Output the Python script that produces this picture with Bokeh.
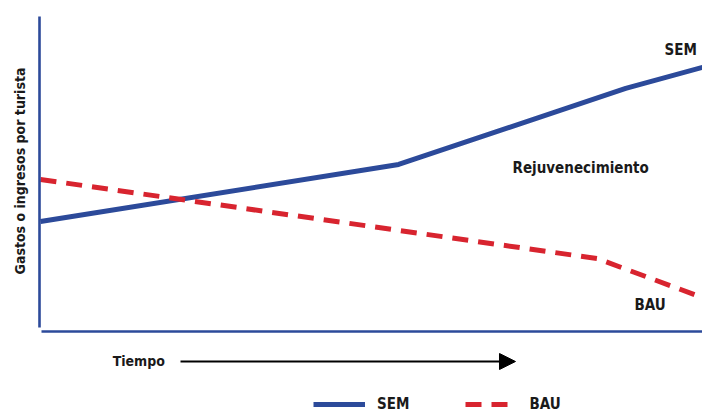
from bokeh.plotting import figure
from bokeh.models import Range1d, LinearAxis, FixedTicker, Legend, LegendItem, Arrow, NormalHead, ColumnDataSource
from bokeh.core.properties import value
from bokeh.embed import file_html
from bokeh.resources import INLINE
import math

# ---- data (conceptual index, 0..100 on both axes) ----
sem_x = [0, 54.1, 88.4, 100]
sem_y = [34.7, 52.9, 77.1, 83.8]
bau_x = [0, 84.1, 100]
bau_y = [48.1, 22.9, 10.5]

series_labels = ["SEM", "BAU"]
y_title = "Gastos o ingresos por turista"
x_title = "Tiempo"
annotation = "Rejuvenecimiento"

BLUE = "#2c4a9a"
RED = "#d8242f"
FONT_NAME = "DejaVu Sans Condensed"
FONT = value(FONT_NAME)

p = figure(width=702, height=413, output_backend="svg", toolbar_location=None,
           x_axis_location=None, y_axis_location=None, min_border=0,
           x_range=Range1d(-6.042, 100), y_range=Range1d(-26.43, 105.1))
p.outline_line_color = None
p.xgrid.visible = False
p.ygrid.visible = False
p.background_fill_color = "white"

# spines drawn as real axes at fixed locations
for loc, side, bnds in [(-0.08, "left", (1.0, 100)), (-0.32, "below", (0.15, 100))]:
    ax = LinearAxis(fixed_location=loc, bounds=bnds, ticker=FixedTicker(ticks=[]),
                    axis_line_color=BLUE, axis_line_width=2.6,
                    major_tick_line_color=None, minor_tick_line_color=None,
                    major_label_text_color=None)
    p.add_layout(ax, side)

r_sem = p.line(sem_x, sem_y, line_color=BLUE, line_width=5)
r_bau = p.line(bau_x, bau_y, line_color=RED, line_width=5, line_dash="16 10")

src = ColumnDataSource(dict(
    x=[96.7, 81.6, 92.1],
    y=[89.2, 51.6, 8.0],
    t=[series_labels[0], annotation, series_labels[1]],
))
p.text(x="x", y="y", text="t", source=src, text_font=FONT, text_font_style="bold",
       text_font_size="15px", text_align="center", text_baseline="middle", text_color="#1a1a1a")

# y title (rotated)
p.text(x=[-3.1], y=[50.8], text=[y_title], angle=math.pi / 2, text_font=FONT,
       text_font_style="bold", text_font_size="14px", text_align="center",
       text_baseline="middle", text_color="#1a1a1a")

# time arrow
p.text(x=[10.9], y=[-9.6], text=[x_title], text_font=FONT, text_font_style="bold",
       text_font_size="14px", text_align="left", text_baseline="middle", text_color="#1a1a1a")
p.add_layout(Arrow(x_start=21.15, y_start=-9.87, x_end=71.75, y_end=-9.87,
                   line_color="black", line_width=2,
                   end=NormalHead(size=16, fill_color="black", line_color="black")))

legend = Legend(items=[LegendItem(label=series_labels[0], renderers=[r_sem]),
                       LegendItem(label=series_labels[1], renderers=[r_bau])],
                orientation="horizontal", location=(313, 0), padding=0, margin=0,
                glyph_width=52, glyph_height=16, label_height=16, label_standoff=12,
                spacing=56, border_line_color=None, background_fill_alpha=0,
                label_text_font=FONT_NAME, label_text_font_style="bold",
                label_text_font_size="15px", label_text_color="#1a1a1a")
p.add_layout(legend)

open("out.html", "w").write(file_html(p, INLINE))
